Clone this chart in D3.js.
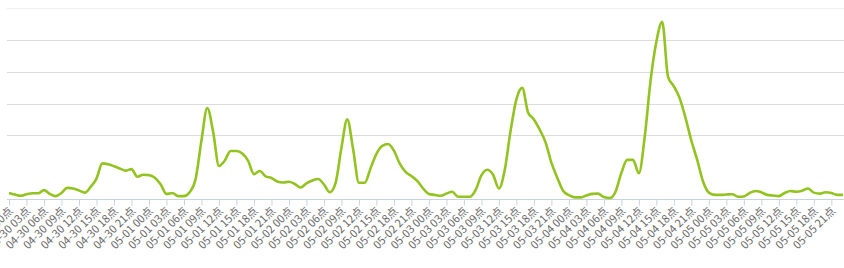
<!DOCTYPE html>
<html>
<head>
<meta charset="utf-8">
<script src="https://cdn.jsdelivr.net/npm/d3@7"></script>
<style>
  body { margin: 0; background: #fff; }
  #chart { width: 844px; height: 268px; }
</style>
</head>
<body>
<div id="chart"></div>
<script>
// hourly values, 04-30 00点 .. 05-05 23点
const hourlyValues = [
  19, 14, 10, 15, 18, 18, 28, 16, 9, 19, 35, 33, 27, 20, 38, 64, 112, 109, 103, 96, 89, 94, 70, 76,
  75, 67, 46, 16, 19, 9, 9, 22, 63, 184, 286, 211, 104, 121, 151, 151, 143, 120, 78, 88, 71, 66, 55, 52,
  54, 47, 36, 49, 58, 63, 46, 21, 51, 161, 250, 157, 51, 51, 97, 142, 167, 173, 152, 111, 85, 72, 57, 33,
  16, 13, 10, 17, 23, 7, 7, 7, 28, 74, 92, 76, 33, 91, 214, 313, 349, 272, 250, 218, 178, 114, 67, 26,
  12, 5, 5, 11, 16, 17, 6, 3, 23, 82, 123, 123, 81, 195, 371, 494, 557, 384, 354, 316, 255, 183, 123, 55,
  20, 13, 13, 14, 15, 7, 8, 19, 25, 21, 13, 11, 9, 19, 25, 23, 26, 33, 20, 17, 21, 19, 13, 13
];

// x-axis labels, one every 3 hours
const tickLabels = [
  "04-30 00点", "04-30 03点", "04-30 06点", "04-30 09点", "04-30 12点", "04-30 15点", "04-30 18点", "04-30 21点",
  "05-01 00点", "05-01 03点", "05-01 06点", "05-01 09点", "05-01 12点", "05-01 15点", "05-01 18点", "05-01 21点",
  "05-02 00点", "05-02 03点", "05-02 06点", "05-02 09点", "05-02 12点", "05-02 15点", "05-02 18点", "05-02 21点",
  "05-03 00点", "05-03 03点", "05-03 06点", "05-03 09点", "05-03 12点", "05-03 15点", "05-03 18点", "05-03 21点",
  "05-04 00点", "05-04 03点", "05-04 06点", "05-04 09点", "05-04 12点", "05-04 15点", "05-04 18点", "05-04 21点",
  "05-05 00点", "05-05 03点", "05-05 06点", "05-05 09点", "05-05 12点", "05-05 15点", "05-05 18点", "05-05 21点"
];

const gridValues = [200, 300, 400, 500, 600];
const tickStep = 3;

const width = 844;
const height = 268;

const svg = d3.select("#chart")
  .append("svg")
  .attr("width", width)
  .attr("height", height);

const x = d3.scaleLinear()
  .domain([0, hourlyValues.length - 1])
  .range([9, 843]);

const y = d3.scaleLinear()
  .domain([0, 600])
  .range([199, 8]);

// horizontal grid lines
svg.append("g")
  .selectAll("line")
  .data(gridValues)
  .enter()
  .append("line")
  .attr("x1", 7)
  .attr("x2", width)
  .attr("y1", d => Math.round(y(d)) + 0.5)
  .attr("y2", d => Math.round(y(d)) + 0.5)
  .attr("stroke", d => d === 600 ? "#f0f0f0" : "#dcdcdc")
  .attr("stroke-width", 1);

// x axis
const tickIndex = tickLabels.map((d, i) => i * tickStep);
const xAxis = d3.axisBottom(x)
  .tickValues(tickIndex)
  .tickSize(6)
  .tickFormat((d, i) => tickLabels[i]);

const axisG = svg.append("g")
  .attr("transform", "translate(0," + (Math.round(y(0)) + 0.5) + ")")
  .call(xAxis);

axisG.select(".domain")
  .attr("d", "M7,0H" + width)
  .attr("stroke", "#c6d3e0");
axisG.selectAll(".tick line")
  .attr("stroke", "#c6d3e0");
axisG.selectAll(".tick text")
  .attr("font-family", "'Noto Sans CJK SC', 'Noto Sans', sans-serif")
  .attr("font-size", 11)
  .attr("fill", "#666")
  .attr("text-anchor", "end")
  .attr("dy", null)
  .attr("y", 0)
  .attr("transform", "translate(2,10) rotate(-45)")
  .style("dominant-baseline", "middle");

// the series line
const line = d3.line()
  .x((d, i) => x(i))
  .y(d => y(d))
  .curve(d3.curveMonotoneX);

svg.append("path")
  .datum(hourlyValues)
  .attr("fill", "none")
  .attr("stroke", "#93c320")
  .attr("stroke-width", 2.6)
  .attr("stroke-linejoin", "round")
  .attr("d", line);
</script>
</body>
</html>
